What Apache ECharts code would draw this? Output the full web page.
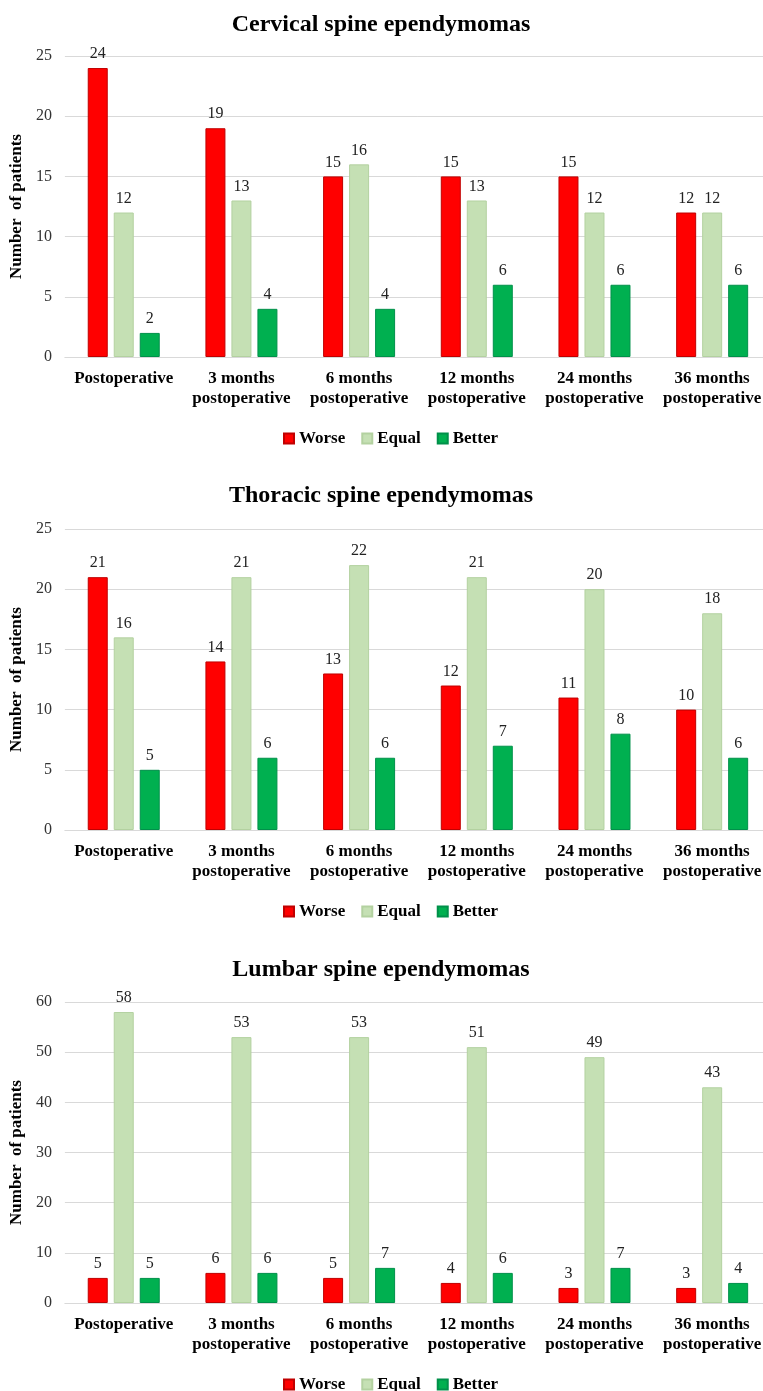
<!DOCTYPE html>
<html>
<head>
<meta charset="utf-8">
<script src="https://cdn.jsdelivr.net/npm/echarts@6/dist/echarts.min.js"></script>
<style>
  html, body { margin: 0; padding: 0; background: #ffffff; overflow: hidden; }
  /* the plot area runs a few pixels past the right edge of the window */
  #chart { width: 771px; height: 1391px; }
</style>
</head>
<body>
<div id="chart"></div>
<script>
// Time points after surgery
const categories = [
  'Postoperative',
  '3 months\npostoperative',
  '6 months\npostoperative',
  '12 months\npostoperative',
  '24 months\npostoperative',
  '36 months\npostoperative'
];

const seriesNames = ['Worse', 'Equal', 'Better'];

// Cervical spine ependymomas
const cervicalWorse = [24, 19, 15, 15, 15, 12];
const cervicalEqual = [12, 13, 16, 13, 12, 12];
const cervicalBetter = [2, 4, 4, 6, 6, 6];

// Thoracic spine ependymomas
const thoracicWorse = [21, 14, 13, 12, 11, 10];
const thoracicEqual = [16, 21, 22, 21, 20, 18];
const thoracicBetter = [5, 6, 6, 7, 8, 6];

// Lumbar spine ependymomas
const lumbarWorse = [5, 6, 5, 4, 3, 3];
const lumbarEqual = [58, 53, 53, 51, 49, 43];
const lumbarBetter = [5, 6, 7, 6, 7, 4];

const panelTitles = [
  'Cervical spine ependymomas',
  'Thoracic spine ependymomas',
  'Lumbar spine ependymomas'
];
const panelData = [
  [cervicalWorse, cervicalEqual, cervicalBetter],
  [thoracicWorse, thoracicEqual, thoracicBetter],
  [lumbarWorse, lumbarEqual, lumbarBetter]
];
const yMax = [25, 25, 60];
const yStep = [5, 5, 10];

const FONT = '"Liberation Serif", "Times New Roman", serif';
const colors = ['#FF0000', '#C5E0B4', '#00B050'];
const borders = ['#C00000', '#B3D1A0', '#00904A'];

// Panel geometry
const gridTops = [56, 529, 1002];
const gridHeight = 301;
const titleTops = [8, 479, 953];
const legendTops = [425, 898, 1371];

const option = {
  backgroundColor: '#ffffff',
  animation: false,
  textStyle: { fontFamily: FONT },
  title: panelTitles.map((t, i) => ({
    text: t,
    left: 376,
    textAlign: 'center',
    top: titleTops[i],
    textStyle: { fontFamily: FONT, fontSize: 24, fontWeight: 'bold', color: '#000000' }
  })),
  legend: legendTops.map(top => ({
    data: seriesNames,
    left: 278,
    top: top,
    itemWidth: 10,
    itemHeight: 10,
    itemGap: 16,
    icon: 'rect',
    textStyle: { fontFamily: FONT, fontSize: 17, fontWeight: 'bold', color: '#000000' }
  })),
  grid: gridTops.map(top => ({
    left: 63,
    right: 0,
    top: top,
    height: gridHeight,
    containLabel: false
  })),
  xAxis: gridTops.map((_, i) => ({
    type: 'category',
    gridIndex: i,
    data: categories,
    axisTick: { show: false },
    axisLine: { show: true, lineStyle: { color: '#d9d9d9', width: 1 } },
    axisLabel: {
      interval: 0,
      margin: 12,
      fontFamily: FONT,
      fontSize: 17,
      fontWeight: 'bold',
      color: '#000000',
      lineHeight: 20
    }
  })),
  yAxis: gridTops.map((_, i) => ({
    type: 'value',
    gridIndex: i,
    min: 0,
    max: yMax[i],
    interval: yStep[i],
    name: 'Number  of patients',
    nameLocation: 'middle',
    nameGap: 38,
    nameTextStyle: { fontFamily: FONT, fontSize: 17, fontWeight: 'bold', color: '#000000' },
    axisLine: { show: false },
    axisTick: { show: false },
    axisLabel: { fontFamily: FONT, fontSize: 16, color: '#333333', margin: 13 },
    splitLine: { lineStyle: { color: '#d9d9d9', width: 1 } }
  })),
  series: []
};

panelData.forEach((group, gi) => {
  group.forEach((values, si) => {
    option.series.push({
      name: seriesNames[si],
      type: 'bar',
      xAxisIndex: gi,
      yAxisIndex: gi,
      data: values,
      barWidth: 20,
      barGap: '30%',
      itemStyle: { color: colors[si], borderColor: borders[si], borderWidth: 1 },
      label: {
        show: true,
        position: 'top',
        distance: 6,
        fontFamily: FONT,
        fontSize: 16,
        color: '#222222'
      }
    });
  });
});

const chart = echarts.init(document.getElementById('chart'), null, { renderer: 'canvas' });
chart.setOption(option);
</script>
</body>
</html>
